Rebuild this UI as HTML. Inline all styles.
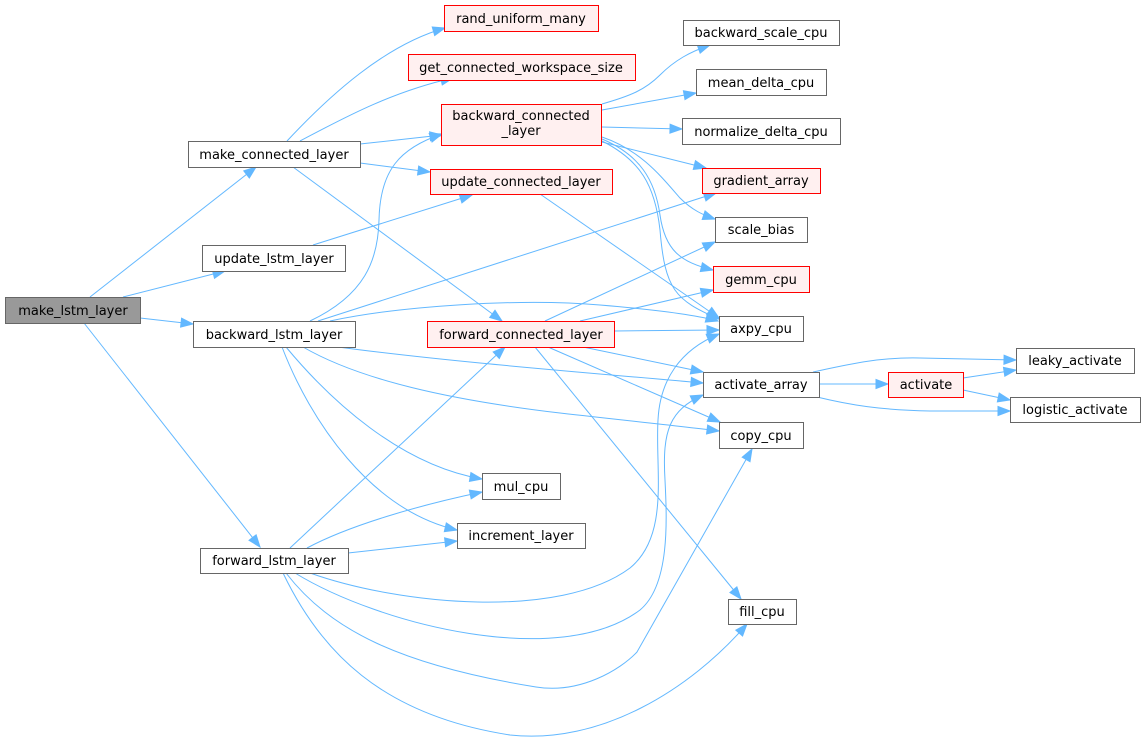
<!DOCTYPE html>
<html>
<head>
<meta charset="utf-8">
<style>
html,body{margin:0;padding:0;background:#fff;}
svg{display:block;}
text{font-family:"DejaVu Sans","Liberation Sans",sans-serif;font-size:13px;fill:#000;text-anchor:middle;}
.n{fill:#fff;stroke:#666;stroke-width:1;}
.r{fill:#fff0f0;stroke:#ff0000;stroke-width:1;}
.g{fill:#999;stroke:#666;stroke-width:1;}
.e{fill:none;stroke:#63b8ff;stroke-width:1;marker-end:url(#a);}
</style>
</head>
<body>
<svg width="1145" height="739" viewBox="0 0 1145 739" xmlns="http://www.w3.org/2000/svg">
<defs>
<marker id="a" markerWidth="13" markerHeight="11" refX="12" refY="5" orient="auto" markerUnits="userSpaceOnUse" overflow="visible">
<path d="M0,0.5 L12,5 L0,9.5 z" fill="#63b8ff" stroke="#63b8ff" stroke-width="1"/>
</marker>
</defs>

<!-- edges -->
<g>
<path class="e" d="M90,297 L256,167"/>
<path class="e" d="M123,297 L225,271"/>
<path class="e" d="M140,318 L193,324"/>
<path class="e" d="M84,323 L260,547"/>

<path class="e" d="M287,141 C330,95 385,45 445,28"/>
<path class="e" d="M300,141 C340,120 390,92 453,78"/>
<path class="e" d="M360,144 L442,135"/>
<path class="e" d="M360,163 L430,172"/>
<path class="e" d="M293,167 L502,321"/>

<path class="e" d="M313,245 L472,195"/>

<path class="e" d="M310,321 C365,295 378,260 379,220 C380,170 400,148 442,134"/>
<path class="e" d="M318,321 L716,193"/>
<path class="e" d="M330,321 C400,306 520,298 600,305 C660,310 700,316 718,321"/>
<path class="e" d="M338,347 C450,362 580,372 703,383"/>
<path class="e" d="M303,347 C360,380 450,400 560,413 C630,421 680,426 719,431"/>
<path class="e" d="M286,347 C330,400 400,465 482,479"/>
<path class="e" d="M282,347 C310,420 370,510 457,530"/>

<path class="e" d="M290,548 L505,347"/>
<path class="e" d="M307,548 C350,525 420,505 482,492"/>
<path class="e" d="M348,553 L457,541"/>
<path class="e" d="M310,573 C400,605 560,620 630,568 C670,535 655,470 658,420 C660,380 680,350 719,334"/>
<path class="e" d="M295,573 C380,625 560,670 640,610 C670,585 667,520 665,480 C662,430 670,410 703,395"/>
<path class="e" d="M286,573 C330,630 400,665 536,687 C580,694 620,670 637,652 L752,449"/>
<path class="e" d="M283,573 C320,650 380,715 510,735 C600,745 690,690 747,624"/>

<path class="e" d="M545,321 L715,242"/>
<path class="e" d="M580,321 L713,290"/>
<path class="e" d="M614,331 L719,330"/>
<path class="e" d="M583,347 L703,372"/>
<path class="e" d="M548,347 L720,422"/>
<path class="e" d="M535,347 L741,599"/>

<path class="e" d="M540,194 L719,318"/>

<path class="e" d="M602,104 C630,96 645,90 660,75 C675,60 690,52 710,45"/>
<path class="e" d="M602,110 L696,93"/>
<path class="e" d="M602,127 L682,129"/>
<path class="e" d="M602,142 L706,168"/>
<path class="e" d="M602,137 C640,150 660,175 680,198 C692,210 703,215 715,219"/>
<path class="e" d="M602,139 C640,155 655,180 660,215 C665,250 680,262 713,270"/>
<path class="e" d="M602,141 C640,160 655,185 660,230 C665,290 675,300 719,319"/>

<path class="e" d="M813,372 C850,364 880,357 920,358 L1016,360"/>
<path class="e" d="M819,384 L888,384"/>
<path class="e" d="M817,397 C850,405 880,410 930,411 L1010,411"/>
<path class="e" d="M963,378 L1016,370"/>
<path class="e" d="M963,390 L1010,400"/>
</g>

<!-- nodes -->
<rect class="g" x="5.5" y="297.5" width="135" height="26"/>
<text x="73" y="315">make_lstm_layer</text>

<rect class="n" x="188.5" y="141.5" width="172" height="26"/>
<text x="274" y="159">make_connected_layer</text>

<rect class="n" x="202.5" y="245.5" width="143" height="26"/>
<text x="274" y="263">update_lstm_layer</text>

<rect class="n" x="193.5" y="321.5" width="162" height="26"/>
<text x="274" y="339">backward_lstm_layer</text>

<rect class="n" x="200.5" y="548.5" width="148" height="25"/>
<text x="274" y="565">forward_lstm_layer</text>

<rect class="r" x="444.5" y="5.5" width="154" height="26"/>
<text x="521" y="23">rand_uniform_many</text>

<rect class="r" x="408.5" y="54.5" width="227" height="26"/>
<text x="521" y="72">get_connected_workspace_size</text>

<rect class="r" x="441.5" y="104.5" width="160" height="41"/>
<text x="521" y="120">backward_connected</text>
<text x="521" y="135">_layer</text>

<rect class="r" x="430.5" y="169.5" width="182" height="25"/>
<text x="521" y="186">update_connected_layer</text>

<rect class="r" x="427.5" y="321.5" width="187" height="26"/>
<text x="521" y="339">forward_connected_layer</text>

<rect class="n" x="482.5" y="473.5" width="78" height="26"/>
<text x="521" y="491">mul_cpu</text>

<rect class="n" x="457.5" y="523.5" width="128" height="25"/>
<text x="521" y="540">increment_layer</text>

<rect class="n" x="683.5" y="20.5" width="156" height="25"/>
<text x="761" y="37">backward_scale_cpu</text>

<rect class="n" x="696.5" y="69.5" width="130" height="26"/>
<text x="761" y="87">mean_delta_cpu</text>

<rect class="n" x="682.5" y="118.5" width="158" height="26"/>
<text x="761" y="136">normalize_delta_cpu</text>

<rect class="r" x="702.5" y="168.5" width="118" height="25"/>
<text x="761" y="185">gradient_array</text>

<rect class="n" x="715.5" y="217.5" width="92" height="25"/>
<text x="761" y="234">scale_bias</text>

<rect class="r" x="713.5" y="266.5" width="96" height="26"/>
<text x="761" y="284">gemm_cpu</text>

<rect class="n" x="719.5" y="316.5" width="84" height="25"/>
<text x="761" y="333">axpy_cpu</text>

<rect class="n" x="703.5" y="372.5" width="116" height="25"/>
<text x="761" y="389">activate_array</text>

<rect class="n" x="719.5" y="422.5" width="84" height="26"/>
<text x="761" y="440">copy_cpu</text>

<rect class="n" x="728.5" y="599.5" width="68" height="25"/>
<text x="762" y="616">fill_cpu</text>

<rect class="r" x="888.5" y="372.5" width="75" height="25"/>
<text x="926" y="389">activate</text>

<rect class="n" x="1016.5" y="348.5" width="118" height="25"/>
<text x="1075" y="365">leaky_activate</text>

<rect class="n" x="1010.5" y="397.5" width="130" height="25"/>
<text x="1075" y="414">logistic_activate</text>
</svg>
</body>
</html>
